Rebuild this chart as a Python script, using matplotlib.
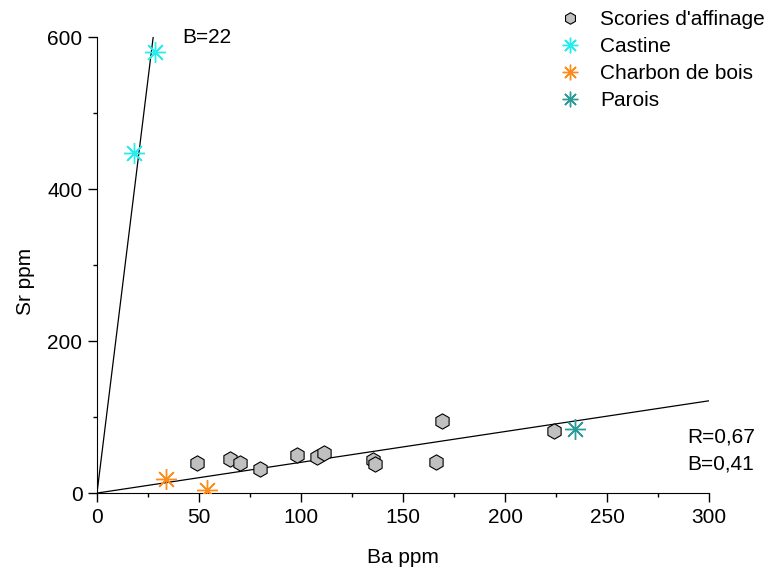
import matplotlib
matplotlib.use("Agg")
import matplotlib.pyplot as plt
import numpy as np

plt.rcParams['font.family'] = ['Liberation Sans', 'DejaVu Sans']

scories_ba = [49, 65, 70, 80, 98, 108, 111, 135, 136, 166, 169, 224]
scories_sr = [40, 45, 39, 32, 50, 48, 53, 44, 38, 41, 95, 82]
castine_ba = [18, 28.5]
castine_sr = [448, 581]
charbon_ba = [34, 54]
charbon_sr = [18, 4]
parois_ba = [234]
parois_sr = [84]
slope_castine = 21.8
slope_low = 0.405

fig = plt.figure(figsize=(7.76, 5.72), dpi=100)
ax = fig.add_axes([0.125, 0.138, 0.789, 0.797])

star = (8, 2, 0)
ax.plot([0, 600 / slope_castine], [0, 600], color='black', lw=0.9, zorder=1)
ax.plot([0, 300], [0, 300 * slope_low], color='black', lw=0.9, zorder=1)

ax.plot(scories_ba, scories_sr, linestyle='none', marker='h', markersize=11,
        markerfacecolor='#c0c0c0', markeredgecolor='black', markeredgewidth=0.8,
        label="Scories d'affinage", zorder=3)
ax.plot(castine_ba, castine_sr, linestyle='none', marker=star, markersize=15,
        color='#22eeee', markeredgewidth=1.0, label='Castine', zorder=3)
ax.plot(charbon_ba, charbon_sr, linestyle='none', marker=star, markersize=15,
        color='#ff8c1a', markeredgewidth=1.0, label='Charbon de bois', zorder=3)
ax.plot(parois_ba, parois_sr, linestyle='none', marker=star, markersize=15,
        color='#2a9d9a', markeredgewidth=1.0, label='Parois', zorder=3)

ax.set_xlim(0, 300)
ax.set_ylim(0, 600)
ax.spines['top'].set_visible(False)
ax.spines['right'].set_visible(False)
ax.set_xticks([0, 50, 100, 150, 200, 250, 300])
ax.set_xticks(np.arange(25, 300, 50), minor=True)
ax.set_yticks([0, 200, 400, 600])
ax.set_yticks([100, 300, 500], minor=True)
ax.tick_params(axis='both', which='major', labelsize=15, length=6.5, width=1, direction='out', pad=4)
ax.tick_params(axis='both', which='minor', length=3, width=1, direction='out')
ax.set_xlabel('Ba ppm', fontsize=15)
ax.set_ylabel('Sr ppm', fontsize=15)
ax.xaxis.set_label_coords(0.5, -0.12)
ax.yaxis.set_label_coords(-0.102, 0.465)

ax.text(41.7, 592, 'B=22', fontsize=15, va='baseline', ha='left')
ax.text(289, 66, 'R=0,67', fontsize=15, va='baseline', ha='left')
ax.text(289, 31.5, 'B=0,41', fontsize=15, va='baseline', ha='left')

leg = fig.legend(loc='upper left', bbox_to_anchor=(0.71, 0.997), frameon=False,
                 fontsize=15, markerscale=0.75, handlelength=1.0, handletextpad=0.95,
                 labelspacing=0.38, borderaxespad=0)

fig.savefig('out.png', dpi=100)
